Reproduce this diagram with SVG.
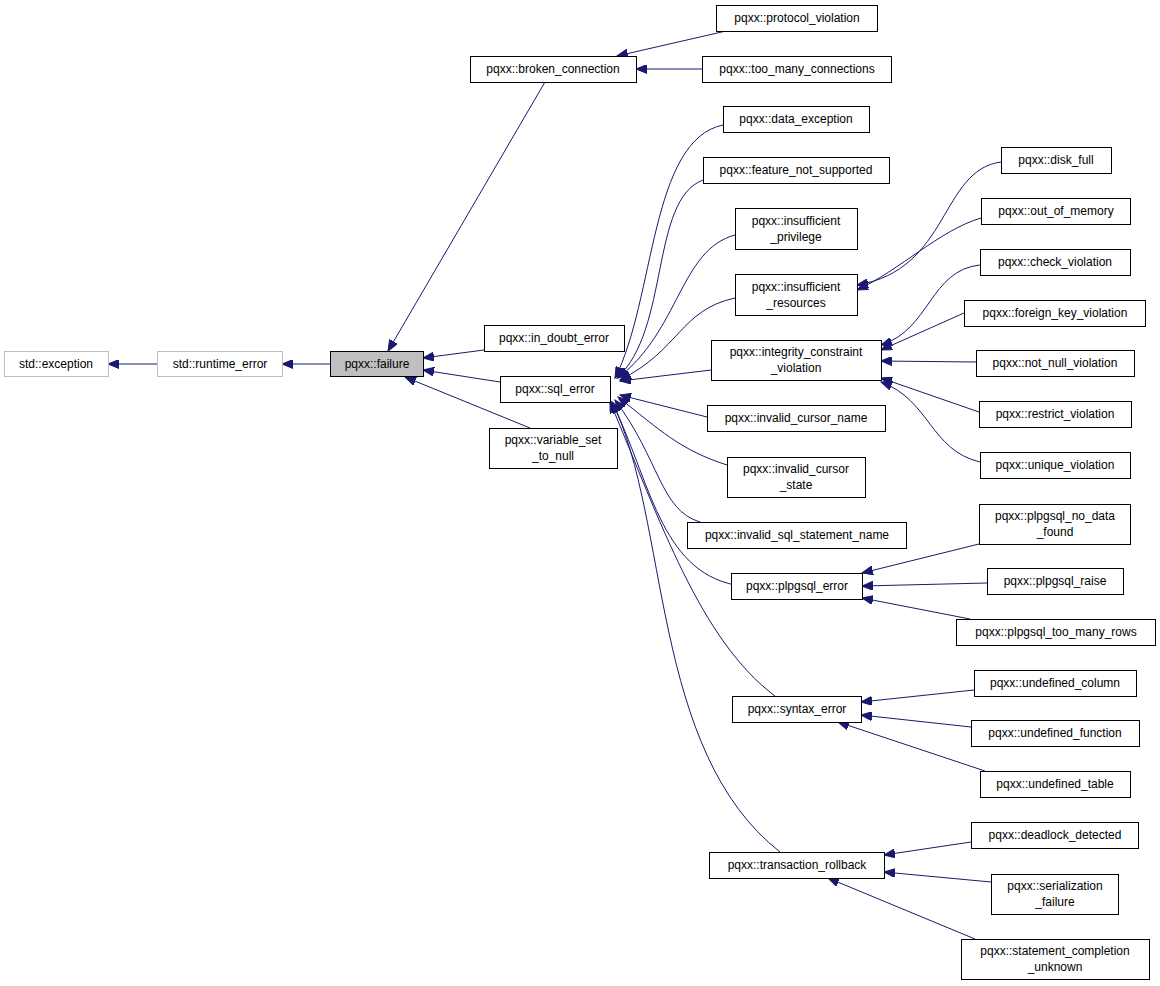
<svg xmlns="http://www.w3.org/2000/svg" width="1160" height="986" viewBox="0 0 1160 986">
<style>
text{font-family:"Liberation Sans",Arial,sans-serif;font-size:12px;fill:#000;text-anchor:middle}
.n rect{fill:#fff;stroke:#000;stroke-width:1}
.g rect{fill:#fff;stroke:#bfbfbf}
.c path{fill:none;stroke:#191970;stroke-width:1;marker-end:url(#a)}
</style>
<defs><marker id="a" markerUnits="userSpaceOnUse" markerWidth="12" markerHeight="9" refX="11" refY="4.5" orient="auto"><path d="M0,0 L11,4.5 L0,9 z" fill="#191970" stroke="#191970"/></marker></defs>
<rect width="1160" height="986" fill="#fff"/>
<g class="c">
<path d="M157,364 L108,364"/>
<path d="M330,364 L282,364"/>
<path d="M545,82 L388,351"/>
<path d="M484,350 L423,358"/>
<path d="M500,382 L423,370"/>
<path d="M530,428 L405,377"/>
<path d="M726,31 L617,56"/>
<path d="M702,69 L636,69"/>
<path d="M723,125 C650,140 655,300 615,378"/>
<path d="M703,180 C650,200 670,330 617,378"/>
<path d="M735,235 C680,250 680,330 618,378"/>
<path d="M735,298 C680,310 680,350 620,380"/>
<path d="M711,370 L620,381"/>
<path d="M707,417 L620,395"/>
<path d="M727,465 C680,450 660,430 618,397"/>
<path d="M700,522 C660,510 660,460 615,400"/>
<path d="M735,585 C660,570 650,480 612,402"/>
<path d="M775,696 C700,640 660,520 610,402"/>
<path d="M780,852 C650,750 670,520 612,402"/>
<path d="M980,265 C930,270 930,330 881,345"/>
<path d="M964,313 L881,350"/>
<path d="M976,362 L881,361"/>
<path d="M979,412 L881,378"/>
<path d="M980,462 C930,450 930,400 881,382"/>
<path d="M1001,162 C940,170 950,270 857,285"/>
<path d="M981,218 C940,230 900,270 857,290"/>
<path d="M979,544 L862,573"/>
<path d="M987,583 L862,586"/>
<path d="M970,619 L862,598"/>
<path d="M974,690 L861,702"/>
<path d="M971,727 L861,715"/>
<path d="M985,771 L838,722"/>
<path d="M971,842 L884,855"/>
<path d="M991,882 L884,872"/>
<path d="M975,939 L828,878"/>
</g>
<g id="exception" class="g"><rect x="4.5" y="351.5" width="104" height="25"/><text x="56" y="368">std::exception</text></g>
<g id="runtime_error" class="g"><rect x="157.5" y="351.5" width="125" height="25"/><text x="220" y="368">std::runtime_error</text></g>
<g id="failure" class="n"><rect x="330.5" y="351.5" width="93" height="25" style="fill:#bfbfbf"/><text x="377" y="368">pqxx::failure</text></g>
<g id="broken_connection" class="n"><rect x="470.5" y="56.5" width="166" height="26"/><text x="553" y="73">pqxx::broken_connection</text></g>
<g id="protocol_violation" class="n"><rect x="716.5" y="5.5" width="161" height="26"/><text x="797" y="22">pqxx::protocol_violation</text></g>
<g id="too_many_connections" class="n"><rect x="702.5" y="56.5" width="189" height="26"/><text x="797" y="73">pqxx::too_many_connections</text></g>
<g id="in_doubt_error" class="n"><rect x="484.5" y="325.5" width="140" height="26"/><text x="554" y="342">pqxx::in_doubt_error</text></g>
<g id="sql_error" class="n"><rect x="500.5" y="376.5" width="110" height="26"/><text x="555" y="393">pqxx::sql_error</text></g>
<g id="variable_set_to_null" class="n"><rect x="489.5" y="428.5" width="128" height="40"/><text x="553" y="444">pqxx::variable_set</text><text x="553" y="460">_to_null</text></g>
<g id="data_exception" class="n"><rect x="723.5" y="106.5" width="146" height="26"/><text x="796" y="123">pqxx::data_exception</text></g>
<g id="feature_not_supported" class="n"><rect x="703.5" y="157.5" width="186" height="26"/><text x="796" y="174">pqxx::feature_not_supported</text></g>
<g id="insufficient_privilege" class="n"><rect x="735.5" y="208.5" width="122" height="41"/><text x="796" y="225">pqxx::insufficient</text><text x="796" y="241">_privilege</text></g>
<g id="insufficient_resources" class="n"><rect x="735.5" y="274.5" width="122" height="41"/><text x="796" y="291">pqxx::insufficient</text><text x="796" y="307">_resources</text></g>
<g id="integrity_constraint_violation" class="n"><rect x="711.5" y="340.5" width="170" height="40"/><text x="796" y="356">pqxx::integrity_constraint</text><text x="796" y="372">_violation</text></g>
<g id="invalid_cursor_name" class="n"><rect x="707.5" y="405.5" width="178" height="26"/><text x="796" y="422">pqxx::invalid_cursor_name</text></g>
<g id="invalid_cursor_state" class="n"><rect x="727.5" y="457.5" width="138" height="40"/><text x="796" y="473">pqxx::invalid_cursor</text><text x="796" y="489">_state</text></g>
<g id="invalid_sql_statement_name" class="n"><rect x="687.5" y="522.5" width="219" height="26"/><text x="797" y="539">pqxx::invalid_sql_statement_name</text></g>
<g id="plpgsql_error" class="n"><rect x="731.5" y="573.5" width="131" height="26"/><text x="797" y="590">pqxx::plpgsql_error</text></g>
<g id="syntax_error" class="n"><rect x="732.5" y="696.5" width="129" height="26"/><text x="797" y="713">pqxx::syntax_error</text></g>
<g id="transaction_rollback" class="n"><rect x="709.5" y="852.5" width="175" height="26"/><text x="797" y="869">pqxx::transaction_rollback</text></g>
<g id="disk_full" class="n"><rect x="1001.5" y="147.5" width="110" height="26"/><text x="1056" y="164">pqxx::disk_full</text></g>
<g id="out_of_memory" class="n"><rect x="981.5" y="198.5" width="149" height="26"/><text x="1056" y="215">pqxx::out_of_memory</text></g>
<g id="check_violation" class="n"><rect x="980.5" y="249.5" width="150" height="26"/><text x="1055" y="266">pqxx::check_violation</text></g>
<g id="foreign_key_violation" class="n"><rect x="964.5" y="300.5" width="181" height="26"/><text x="1055" y="317">pqxx::foreign_key_violation</text></g>
<g id="not_null_violation" class="n"><rect x="976.5" y="350.5" width="158" height="26"/><text x="1055" y="367">pqxx::not_null_violation</text></g>
<g id="restrict_violation" class="n"><rect x="979.5" y="401.5" width="152" height="26"/><text x="1055" y="418">pqxx::restrict_violation</text></g>
<g id="unique_violation" class="n"><rect x="980.5" y="452.5" width="150" height="26"/><text x="1055" y="469">pqxx::unique_violation</text></g>
<g id="plpgsql_no_data_found" class="n"><rect x="979.5" y="504.5" width="151" height="40"/><text x="1055" y="520">pqxx::plpgsql_no_data</text><text x="1055" y="536">_found</text></g>
<g id="plpgsql_raise" class="n"><rect x="987.5" y="568.5" width="136" height="26"/><text x="1055" y="585">pqxx::plpgsql_raise</text></g>
<g id="plpgsql_too_many_rows" class="n"><rect x="956.5" y="619.5" width="199" height="26"/><text x="1056" y="636">pqxx::plpgsql_too_many_rows</text></g>
<g id="undefined_column" class="n"><rect x="974.5" y="670.5" width="162" height="26"/><text x="1055" y="687">pqxx::undefined_column</text></g>
<g id="undefined_function" class="n"><rect x="971.5" y="720.5" width="168" height="26"/><text x="1055" y="737">pqxx::undefined_function</text></g>
<g id="undefined_table" class="n"><rect x="980.5" y="771.5" width="150" height="26"/><text x="1055" y="788">pqxx::undefined_table</text></g>
<g id="deadlock_detected" class="n"><rect x="971.5" y="822.5" width="167" height="26"/><text x="1055" y="839">pqxx::deadlock_detected</text></g>
<g id="serialization_failure" class="n"><rect x="991.5" y="874.5" width="127" height="40"/><text x="1055" y="890">pqxx::serialization</text><text x="1055" y="906">_failure</text></g>
<g id="statement_completion_unknown" class="n"><rect x="961.5" y="939.5" width="188" height="40"/><text x="1055" y="955">pqxx::statement_completion</text><text x="1055" y="971">_unknown</text></g>
</svg>
